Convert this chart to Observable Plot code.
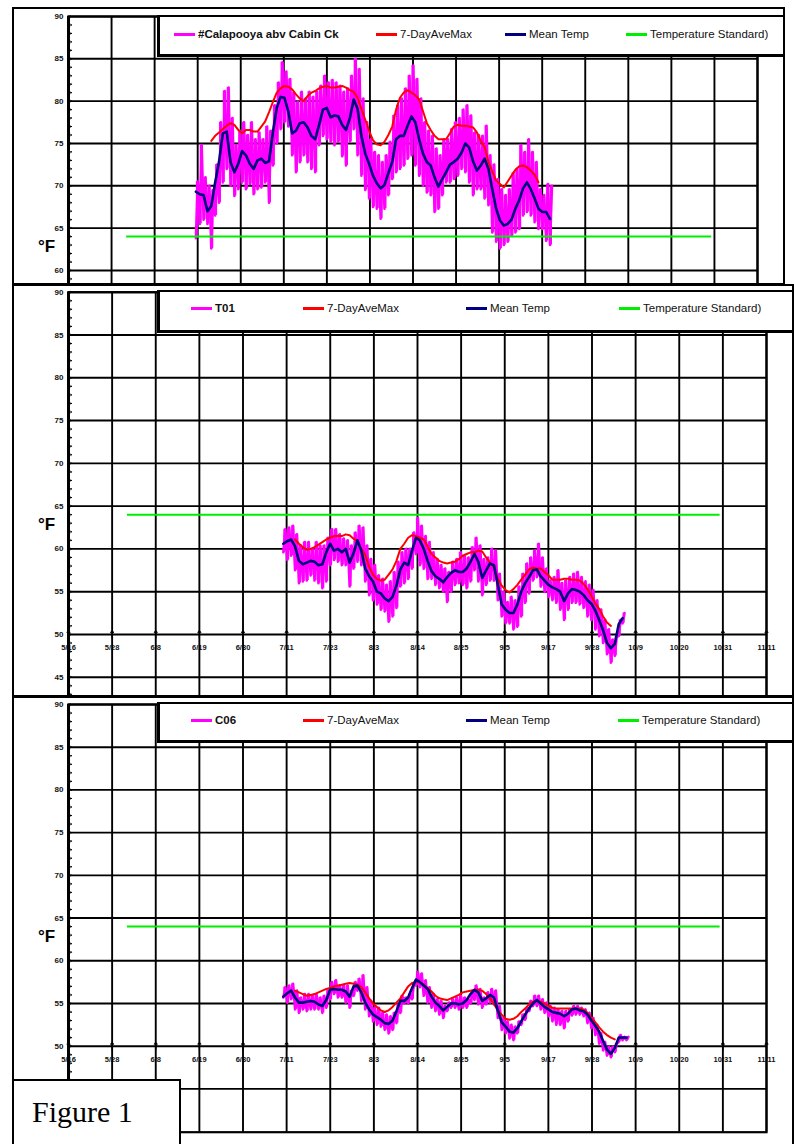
<!DOCTYPE html>
<html><head><meta charset="utf-8">
<script src="https://cdn.jsdelivr.net/npm/d3@7"></script>
<script src="https://cdn.jsdelivr.net/npm/@observablehq/plot@0.6"></script>
<style>
body{margin:0;background:#fff;}
#page{position:relative;width:794px;height:1144px;overflow:hidden;font-family:"Liberation Sans",Arial,sans-serif;background:#fff;}
#page svg{position:absolute;left:0;}
.frame{position:absolute;border:2px solid #000;box-sizing:border-box;pointer-events:none;}
.legend{position:absolute;background:#fff;border:2px solid #000;border-bottom-width:3px;border-left-width:3px;box-sizing:border-box;}
.item{position:absolute;font-size:11.5px;white-space:nowrap;line-height:14px;color:#111;}
.sw{position:absolute;width:21px;height:3px;}
.unit{position:absolute;font-weight:bold;font-size:17px;line-height:20px;}
#figtxt{position:absolute;left:32px;top:1097px;font-family:"Liberation Serif","Times New Roman",serif;font-size:30px;line-height:30px;}
</style></head>
<body><div id="page"></div>
<script>
// ---------------- data ----------------
const xTickLabels = ["5/16","5/28","6/8","6/19","6/30","7/11","7/23","8/3","8/14","8/25","9/5","9/17","9/28","10/9","10/20","10/31","11/11"];
const xDomain = [136.9, 315.9];           // day of year (5/16.9 .. 11/11.9)
const legendLabels = ["7-DayAveMax", "Mean Temp", "Temperature Standard)"];
const panelNames = ["#Calapooya abv Cabin Ck", "T01", "C06"];
const standardTemp = 64;
const standardStart = 152;  // 6/1
const standardEnd = 304;    // 10/31

// Panel 1 : #Calapooya abv Cabin Ck  (daily, from day-of-year 170 = 6/19)
const p1Start = 170;
const p1Max = [70.5,74.8,71.0,70.0,69.5,72.5,77.5,81.2,81.6,78.0,
  74.8,76.5,77.5,76.0,77.5,75.5,76.3,75.5,77.0,76.5,
  79.5,82.2,84.6,83.5,82.6,81.0,79.9,81.1,80.3,81.1,
  80.5,81.1,81.8,83.0,82.2,82.5,82.2,81.8,81.1,81.5,
  83.0,85.0,83.8,80.3,77.5,75.5,74.0,73.6,72.8,73.6,
  75.2,78.3,79.5,80.3,81.5,83.0,84.2,82.6,80.3,77.5,
  76.5,75.9,74.4,73.6,75.5,75.5,76.7,77.5,78.0,79.0,
  79.5,78.3,76.3,76.0,75.9,77.1,73.6,72.5,70.8,69.6,
  68.9,69.6,71.5,72.0,74.8,74.0,75.5,74.0,72.8,69.6,
  68.9,70.2,70.0];
const p1Min = [63.8,65.5,66.0,65.5,62.6,66.5,68.0,70.4,72.0,70.0,
  68.8,69.6,70.4,69.6,70.2,69.0,69.6,69.8,70.4,68.0,
  72.4,75.0,76.7,77.5,77.0,73.6,71.6,72.8,73.6,72.8,
  72.0,71.6,74.8,75.9,75.5,75.2,74.8,75.2,73.5,72.4,
  75.2,76.7,73.6,71.2,69.5,68.5,67.5,67.3,66.1,67.3,
  68.9,70.8,71.6,72.0,72.4,73.2,73.6,72.4,71.2,70.0,
  69.2,68.9,66.9,67.3,68.9,70.4,70.4,70.8,71.2,72.0,
  71.6,70.4,68.9,69.6,69.6,68.5,67.7,64.5,63.4,62.6,
  63.0,63.4,64.1,64.5,64.9,66.5,66.9,66.5,65.7,64.9,
  64.9,63.5,63.0];
const p1Mean = [69.3,69.0,68.9,67.0,67.6,70.4,72.8,76.2,76.4,72.8,
  71.6,72.6,74.1,73.6,72.6,72.0,73.0,73.2,72.7,72.9,
  76.3,79.2,80.5,80.4,78.8,76.2,76.5,77.4,77.5,76.9,
  75.9,75.5,77.2,79.0,79.2,78.1,78.3,78.2,77.2,76.6,
  78.0,80.2,79.1,75.9,73.8,72.6,71.2,70.3,69.7,70.1,
  71.5,72.8,75.5,75.9,75.9,77.1,78.2,77.5,75.5,73.8,
  72.8,72.4,71.0,69.9,70.8,71.6,72.5,72.8,73.2,73.9,
  75.0,74.5,72.9,71.8,72.4,73.2,72.0,69.6,67.3,65.9,
  65.3,65.5,66.0,67.3,68.3,69.7,70.4,69.6,68.5,67.3,
  66.9,66.9,66.1];
const p1AveStart = 174;
const p1AveMax = [75.3,75.9,76.3,76.7,77.1,77.4,77.2,76.6,76.2,76.6,
  76.6,76.4,76.4,77.0,77.6,78.7,79.9,81.0,81.5,81.8,
  81.7,81.4,80.8,80.3,80.0,80.6,81.0,81.2,81.5,81.7,
  81.8,81.6,81.6,81.7,81.8,81.6,81.3,81.1,80.4,79.1,
  77.8,76.5,75.4,74.9,74.8,75.2,76.0,77.0,79.0,80.4,
  81.0,81.3,81.0,80.7,80.2,78.8,77.4,76.6,75.9,75.5,
  75.5,75.5,76.2,77.0,77.2,77.1,77.1,77.0,76.9,76.3,
  75.3,74.6,72.8,71.7,70.6,70.2,69.8,70.5,71.2,71.9,
  72.3,72.4,72.2,71.8,71.3,70.4];

// Panel 2 : T01 (daily, from day-of-year 192 = 7/11)
const p2Start = 192;
const p2Max = [62.3,62.5,62.7,61.7,60.4,60.8,60.8,60.0,60.8,60.4,
  60.4,61.3,62.3,62.3,61.7,61.2,61.0,60.4,61.9,62.7,
  62.5,60.4,58.8,58.1,56.9,56.5,55.8,56.2,57.3,58.5,
  59.6,60.0,60.0,61.9,63.6,62.7,61.5,60.8,59.6,58.8,
  58.1,57.7,57.3,58.5,58.8,59.6,59.2,59.0,60.2,61.3,
  60.4,58.8,59.0,60.0,59.8,57.1,55.0,53.8,54.4,54.0,
  55.6,57.1,58.3,59.0,59.8,60.6,59.0,57.7,56.3,56.7,
  57.5,56.0,56.3,56.7,57.1,57.3,56.7,56.2,55.8,55.2,
  54.0,52.9,51.7,50.6,49.4,49.8,51.7,52.5];
const p2Min = [59.6,58.7,59.2,57.5,56.0,56.2,56.3,56.9,56.3,56.0,
  55.4,56.2,58.1,58.7,58.5,58.1,58.1,55.6,57.7,58.5,
  58.1,56.2,54.6,54.0,53.5,52.9,52.7,51.5,52.1,53.1,
  55.6,56.0,56.5,57.7,59.4,58.1,57.7,56.5,56.5,55.8,
  55.4,55.0,53.8,55.0,55.8,56.0,55.8,55.4,56.2,57.5,
  56.2,54.6,55.8,56.3,56.3,54.0,52.1,51.3,51.3,50.6,
  50.9,52.1,53.7,54.8,56.3,56.7,55.6,55.0,54.4,54.0,
  53.7,52.9,51.7,52.9,53.7,53.7,53.5,53.1,52.1,51.7,
  50.6,49.8,49.0,47.7,46.7,47.5,49.8,51.3];
const p2Mean = [60.6,60.9,61.1,60.3,58.6,58.2,58.4,58.6,58.5,58.1,
  58.2,59.6,60.6,59.8,60.0,59.6,60.0,58.4,59.5,61.0,
  59.8,57.7,56.8,56.2,55.0,54.8,54.2,53.9,54.4,55.7,
  57.6,58.4,58.1,59.8,61.3,61.0,60.0,58.6,57.4,56.8,
  56.5,56.1,56.7,57.2,57.5,57.3,57.3,57.7,58.5,59.4,
  58.5,56.6,57.5,58.3,58.1,55.8,53.5,52.9,52.5,52.5,
  53.5,55.0,56.0,56.7,57.5,57.6,56.8,56.3,55.8,55.5,
  55.3,55.0,53.9,54.8,55.3,55.2,55.0,54.6,54.0,53.6,
  52.8,51.7,50.5,49.0,48.4,48.9,51.2,51.9];
const p2AveStart = 195;
const p2AveMax = [61.1,60.6,60.2,59.9,60.0,60.2,60.5,60.8,61.1,61.3,
  61.5,61.5,61.5,61.7,61.6,61.2,60.9,60.0,59.3,57.9,
  57.0,56.5,56.3,56.4,57.0,57.6,58.6,60.0,60.6,61.3,
  61.6,61.5,61.3,61.1,60.3,59.4,59.0,58.6,58.4,58.3,
  58.4,58.5,58.8,59.2,59.4,59.6,59.6,59.8,59.7,59.0,
  58.4,57.8,56.5,55.7,55.2,54.9,55.3,55.8,56.4,57.0,
  57.6,57.8,57.7,57.7,57.3,56.9,56.4,56.4,56.4,56.5,
  56.5,56.4,56.4,56.3,55.9,55.3,54.5,53.6,53.0,52.1,
  51.4,51.0];

// Panel 3 : C06 (daily, from day-of-year 192 = 7/11)
const p3Start = 192;
const p3Max = [56.9,57.1,57.3,56.5,55.7,56.1,56.1,55.9,56.1,55.7,
  55.9,56.5,57.5,57.7,57.1,57.1,57.1,56.5,57.5,57.9,
  58.3,56.9,55.3,54.5,54.5,53.9,53.7,53.5,53.9,54.9,
  55.9,55.7,56.1,57.3,58.7,58.5,57.7,56.9,56.1,55.5,
  55.3,54.7,55.1,55.5,55.7,55.9,55.7,55.5,56.3,57.1,
  56.7,55.7,56.3,56.7,56.5,54.7,53.3,52.9,52.5,52.3,
  52.9,53.7,54.5,55.3,55.9,55.9,55.5,55.1,54.7,54.5,
  54.3,54.1,54.1,54.3,54.7,54.7,54.5,54.3,53.9,53.3,
  52.5,51.5,50.5,49.9,49.9,50.3,51.3,51.1,51.1];
const p3Min = [55.7,55.1,55.5,54.3,53.9,54.3,54.1,54.3,54.3,54.3,
  53.9,54.5,55.5,56.1,55.7,55.7,55.1,54.5,55.9,56.5,
  55.3,54.3,53.5,52.9,52.5,52.3,51.9,51.5,51.9,52.7,
  53.9,55.0,55.0,55.5,57.1,56.9,55.9,55.1,54.5,54.1,
  53.7,53.3,54.1,54.5,54.5,54.3,54.5,54.5,55.0,55.4,
  54.9,54.5,54.9,55.1,54.9,53.3,51.9,51.5,50.9,50.7,
  51.5,52.5,53.1,54.1,54.7,54.7,54.3,53.9,53.5,52.9,
  52.5,52.5,52.1,52.9,53.6,53.7,53.7,53.5,52.7,52.1,
  51.3,50.3,49.5,48.9,48.7,49.3,50.5,50.7,50.7];
const p3Mean = [55.8,56.2,56.5,55.7,55.1,55.1,55.2,55.3,55.2,54.9,
  54.7,55.4,56.6,56.7,56.6,56.6,56.4,55.8,57.0,57.1,
  56.3,55.1,54.3,53.7,53.4,53.1,52.7,52.6,53.0,54.1,
  55.3,55.3,55.7,56.8,57.8,57.5,57.1,56.7,55.8,55.1,
  54.7,54.2,54.6,55.0,55.0,54.9,55.0,55.4,56.1,56.6,
  56.3,55.3,55.6,56.0,55.7,54.2,52.8,52.3,51.7,51.6,
  52.1,52.9,53.7,54.4,55.0,55.4,55.0,54.6,54.3,54.0,
  53.9,53.8,53.5,53.8,54.3,54.4,54.2,54.1,53.7,53.0,
  52.4,51.7,50.6,49.6,49.1,49.8,51.0,51.0,51.0];
const p3AveStart = 195;
const p3AveMax = [56.5,56.3,56.1,55.9,56.0,56.1,56.3,56.5,56.7,56.8,
  57.0,57.1,57.2,57.3,57.4,57.3,57.2,56.9,56.3,55.6,
  55.0,54.6,54.2,54.0,54.2,54.6,55.1,55.6,56.3,57.0,
  57.4,57.5,57.5,57.2,56.8,56.4,55.9,55.6,55.5,55.4,
  55.6,55.8,56.0,56.3,56.4,56.5,56.6,56.6,56.5,56.1,
  55.6,54.9,54.2,53.7,53.2,53.1,53.2,53.5,54.0,54.4,
  54.9,55.2,55.3,55.2,55.0,54.7,54.5,54.4,54.4,54.4,
  54.4,54.4,54.4,54.4,54.3,53.9,53.3,52.8,52.2,51.7,
  51.3,51.0,50.8];

// ---------------- helpers ----------------
const seriesColors = ["#ff00ff", "#ff0000", "#000080", "#00ee00"];
const xTicks = xTickLabels.map((_, i) => xDomain[0] + i * (xDomain[1] - xDomain[0]) / (xTickLabels.length - 1));
const daily = (start, vals) => vals.map((v, i) => ({x: start + i, y: v}));
const zigzag = (start, maxs, mins) => maxs.flatMap((mx, i) => [{x: start + i, y: mins[i]}, {x: start + i + 0.5, y: mx}]);
const ranges = (start, maxs, mins) => maxs.map((mx, i) => ({x: start + i + 0.25, y1: mins[i], y2: mx}));

function panel(cfg) {
  const minor = d3.range(Math.ceil(cfg.yDomain[0]), 91);
  const marks = [
    Plot.ruleY(cfg.yLabels, {stroke: "#000", strokeWidth: 1.9}),
  ];
  if (cfg.showX) {
    marks.push(Plot.text(xTicks, {x: d => d, y: 50, text: (d, i) => xTickLabels[i], dy: 13,
      fontSize: 7.5, fontWeight: "bold", fill: "#111"}));
    marks.push(Plot.vector(xTicks, {x: d => d, y: 50, length: 7, rotate: 0, anchor: "middle", stroke: "#000", strokeWidth: 1.2}));
  }
  marks.push(
    Plot.ruleX(xTicks, {stroke: "#000", strokeWidth: 1.9}),
    Plot.frame({stroke: "#000", strokeWidth: 2.2}),
    Plot.ruleX([xDomain[0]], {stroke: "#000", strokeWidth: 3}),
    Plot.vector(minor, {x: xDomain[0], y: d => d, length: 3, rotate: 90, anchor: "start", stroke: "#000", strokeWidth: 1}),
    Plot.text(cfg.yLabels, {x: xDomain[0], y: d => d, text: d => String(d), textAnchor: "end", dx: -5,
      fontSize: 8, fontWeight: "bold", fill: "#111"}),
    Plot.ruleX(ranges(cfg.start, cfg.max, cfg.min), {x: "x", y1: "y1", y2: "y2", stroke: seriesColors[0], strokeWidth: 2}),
    Plot.line(zigzag(cfg.start, cfg.max, cfg.min), {x: "x", y: "y", stroke: seriesColors[0], strokeWidth: 2.6}),
    Plot.line(daily(cfg.aveStart, cfg.aveMax), {x: "x", y: "y", stroke: seriesColors[1], strokeWidth: 2}),
    Plot.line(daily(cfg.start, cfg.mean), {x: "x", y: "y", stroke: seriesColors[2], strokeWidth: 2.6}),
    Plot.ruleY([standardTemp], {x1: standardStart, x2: standardEnd, stroke: seriesColors[3], strokeWidth: 2})
  );
  const svg = Plot.plot({
    width: 794, height: cfg.height,
    marginLeft: 68, marginRight: cfg.marginRight, marginTop: cfg.marginTop, marginBottom: cfg.marginBottom,
    x: {type: "linear", domain: xDomain, axis: null},
    y: {type: "linear", domain: cfg.yDomain, axis: null},
    style: {fontFamily: "'Liberation Sans', Arial, sans-serif", background: "white"},
    marks
  });
  svg.style.top = cfg.top + "px";
  return svg;
}

const page = document.getElementById("page");
const panels = [
  {top: 0, height: 284, marginTop: 16, marginBottom: 0, marginRight: 37, yDomain: [58.34, 90],
   yLabels: [60,65,70,75,80,85,90], showX: false,
   start: p1Start, max: p1Max, min: p1Min, mean: p1Mean, aveStart: p1AveStart, aveMax: p1AveMax},
  {top: 284, height: 413, marginTop: 7.7, marginBottom: 1, marginRight: 28, yDomain: [42.75, 90],
   yLabels: [45,50,55,60,65,70,75,80,85,90], showX: true,
   start: p2Start, max: p2Max, min: p2Min, mean: p2Mean, aveStart: p2AveStart, aveMax: p2AveMax},
  {top: 696, height: 448, marginTop: 8, marginBottom: 12.3, marginRight: 28, yDomain: [39.93, 90],
   yLabels: [45,50,55,60,65,70,75,80,85,90], showX: true,
   start: p3Start, max: p3Max, min: p3Min, mean: p3Mean, aveStart: p3AveStart, aveMax: p3AveMax}
];
panels.forEach(cfg => page.appendChild(panel(cfg)));

// ---------------- frames, legends, labels ----------------
function div(cls, styles, html) {
  const d = document.createElement("div");
  d.className = cls;
  Object.assign(d.style, styles);
  if (html != null) d.innerHTML = html;
  page.appendChild(d);
  return d;
}
div("frame", {left: "12px", top: "7px", width: "773px", height: "278px"});
div("frame", {left: "12px", top: "284px", width: "782px", height: "413px"});
div("frame", {left: "12px", top: "696px", width: "782px", height: "470px"});

const legendBoxes = [
  {left: 157, top: 15, right: 785, bottom: 57, cy: 34, sw: [174, 376, 505, 626]},
  {left: 157, top: 290, right: 794, bottom: 333, cy: 308, sw: [191, 303, 466, 619]},
  {left: 157, top: 702, right: 794, bottom: 743, cy: 720, sw: [191, 303, 466, 618]}
];
legendBoxes.forEach((b, p) => {
  div("legend", {left: b.left + "px", top: b.top + "px", width: (b.right - b.left) + "px", height: (b.bottom - b.top) + "px"});
  const labels = [panelNames[p], ...legendLabels];
  labels.forEach((lab, k) => {
    div("sw", {left: b.sw[k] + "px", top: (b.cy - 1.5) + "px", background: seriesColors[k]});
    div("item", {left: (b.sw[k] + 24) + "px", top: (b.cy - 7) + "px", fontWeight: k === 0 ? "bold" : "normal"}, lab);
  });
});

[247, 525, 937].forEach(cy => div("unit", {left: "38px", top: (cy - 10) + "px"}, "°F"));

div("", {position: "absolute", left: "12px", top: "1079px", width: "169px", height: "70px",
  border: "2px solid #000", background: "#fff", boxSizing: "border-box"});
const ft = div("", {}, "Figure 1");
ft.id = "figtxt";
</script>
</body></html>
